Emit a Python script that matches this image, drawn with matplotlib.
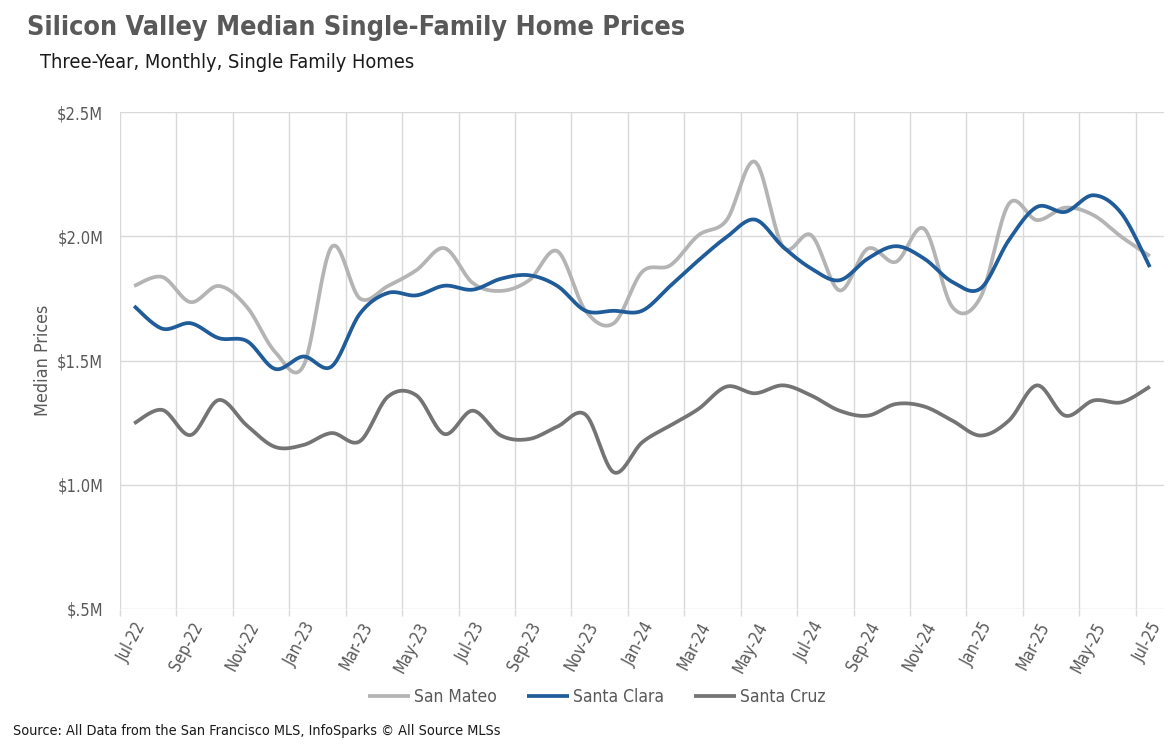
import numpy as np
import matplotlib
matplotlib.use("Agg")
import matplotlib.pyplot as plt
from matplotlib import font_manager as fm

months = ["Jul-22","Aug-22","Sep-22","Oct-22","Nov-22","Dec-22","Jan-23","Feb-23","Mar-23","Apr-23",
          "May-23","Jun-23","Jul-23","Aug-23","Sep-23","Oct-23","Nov-23","Dec-23","Jan-24","Feb-24",
          "Mar-24","Apr-24","May-24","Jun-24","Jul-24","Aug-24","Sep-24","Oct-24","Nov-24","Dec-24",
          "Jan-25","Feb-25","Mar-25","Apr-25","May-25","Jun-25","Jul-25"]

san_mateo = [1.80, 1.836, 1.735, 1.80, 1.715, 1.534, 1.478, 1.957, 1.75, 1.80,
             1.863, 1.952, 1.812, 1.78, 1.823, 1.94, 1.70, 1.65, 1.856, 1.883,
             2.004, 2.065, 2.30, 1.957, 2.004, 1.782, 1.95, 1.897, 2.03, 1.715,
             1.755, 2.13, 2.065, 2.115, 2.085, 1.997, 1.92]
santa_clara = [1.719, 1.628, 1.65, 1.59, 1.578, 1.466, 1.516, 1.476, 1.688, 1.772,
               1.762, 1.801, 1.785, 1.829, 1.843, 1.80, 1.70, 1.70, 1.70, 1.80,
               1.903, 1.997, 2.067, 1.957, 1.87, 1.823, 1.91, 1.96, 1.91, 1.816,
               1.79, 1.984, 2.118, 2.098, 2.165, 2.091, 1.876]
santa_cruz = [1.247, 1.301, 1.20, 1.341, 1.238, 1.152, 1.16, 1.208, 1.175, 1.355,
              1.36, 1.204, 1.298, 1.198, 1.184, 1.234, 1.282, 1.05, 1.17, 1.238,
              1.305, 1.395, 1.368, 1.40, 1.359, 1.298, 1.278, 1.325, 1.315, 1.258,
              1.198, 1.258, 1.40, 1.278, 1.339, 1.332, 1.395]

series_names = ["San Mateo", "Santa Clara", "Santa Cruz"]
series_colors = ["#B4B4B4", "#1F5C99", "#747474"]
yticks = [0.5, 1.0, 1.5, 2.0, 2.5]
ytick_labels = ["$.5M", "$1.0M", "$1.5M", "$2.0M", "$2.5M"]

# pick the narrowest available family
names = {f.name for f in fm.fontManager.ttflist}
cond = [f for f in fm.fontManager.ttflist
        if f.stretch in ("condensed", "semi-condensed", "extra-condensed", "ultra-condensed")
        or "Narrow" in f.name or "Condensed" in f.name]
font = None
stretch = "normal"
for f in cond:
    if f.weight in (400, "normal", "regular"):
        font = f.name
        stretch = f.stretch
        break
if font is None:
    font = "Roboto" if "Roboto" in names else "DejaVu Sans"
plt.rcParams["font.family"] = [font, "DejaVu Sans"]
plt.rcParams["font.stretch"] = stretch


def smooth(y, n=20):
    y = np.asarray(y, float)
    x = np.arange(len(y), dtype=float)
    P = np.column_stack([x, y])
    P = np.vstack([P[0], P, P[-1]])
    out = []
    t = np.linspace(0, 1, n, endpoint=False)[:, None]
    for i in range(1, len(P) - 2):
        p0, p1, p2, p3 = P[i - 1], P[i], P[i + 1], P[i + 2]
        c1 = p1 + (p2 - p0) / 6.0
        c2 = p2 - (p3 - p1) / 6.0
        b = ((1 - t) ** 3) * p1 + 3 * ((1 - t) ** 2) * t * c1 + 3 * (1 - t) * t ** 2 * c2 + t ** 3 * p2
        out.append(b)
    out.append(P[-2][None, :])
    out = np.vstack(out)
    return out[:, 0], out[:, 1]


fig = plt.figure(figsize=(11.68, 7.52), dpi=100)
ax = fig.add_axes([120 / 1168, 1 - 609 / 752, (1164 - 120) / 1168, (609 - 112) / 752])
renderer = fig.canvas.get_renderer()


def fit_text(x, y, s, target_w, size, **kw):
    t = fig.text(x, y, s, fontsize=size, **kw)
    w = t.get_window_extent(renderer).width
    t.set_fontsize(size * target_w / w)
    return t


for vals, name, col in zip([san_mateo, santa_clara, santa_cruz], series_names, series_colors):
    sx, sy = smooth(vals)
    ax.plot(sx, sy, color=col, lw=2.7, label=name, solid_capstyle="butt", zorder=3)

n = len(months)
ax.set_xlim(-0.5, n - 0.5)
ax.set_ylim(0.5, 2.5)
ax.set_yticks(yticks)
ax.set_yticklabels(ytick_labels)
ax.set_xticks(np.arange(-0.5, n - 1, 2), minor=True)
ax.set_xticks(np.arange(0, n, 2))
ax.set_xticklabels(months[::2], rotation=62, ha="right", va="top", rotation_mode="anchor")
ax.grid(False)
for yv in yticks:
    ax.axhline(yv, color="#D9D9D9", lw=1.0, zorder=1)
for xv in np.arange(-0.5, n - 1, 2):
    ax.axvline(xv, color="#D9D9D9", lw=1.0, zorder=1)
for s in ax.spines.values():
    s.set_visible(False)

# size tick labels so "$2.5M" is ~46 px wide
probe = fig.text(0, 0, "$2.5M", fontsize=11)
tick_fs = 11 * 46 / probe.get_window_extent(renderer).width
probe.remove()

ax.tick_params(axis="x", which="major", length=0, pad=7, labelsize=tick_fs, labelcolor="#595959")
ax.tick_params(axis="x", which="minor", length=5, color="#D9D9D9", width=1)
ax.tick_params(axis="y", length=0, pad=12, labelsize=tick_fs, labelcolor="#595959")
ax.set_ylabel("Median Prices", fontsize=tick_fs * 1.08, color="#595959", labelpad=4)

fit_text(27 / 1168, 1 - 28 / 752, "Silicon Valley Median Single-Family Home Prices", 655, 22,
         fontweight="bold", color="#595959", va="center", ha="left")
fit_text(40 / 1168, 1 - 63 / 752, "Three-Year, Monthly, Single Family Homes", 375, 14,
         color="#1a1a1a", va="center", ha="left")
fit_text(13 / 1168, 1 - 731 / 752, "Source: All Data from the San Francisco MLS, InfoSparks \u00a9 All Source MLSs",
         487, 11, color="#1a1a1a", va="center", ha="left")

leg_fs = tick_fs * 1.05
fs_px = leg_fs * 100 / 72
leg = fig.legend(loc="center", bbox_to_anchor=(597 / 1168, 1 - 697 / 752), ncol=3, frameon=False,
                 fontsize=leg_fs, handlelength=42 / fs_px, handletextpad=4 / fs_px,
                 columnspacing=30 / fs_px)
for t in leg.get_texts():
    t.set_color("#595959")

fig.savefig("out.png", dpi=100)
